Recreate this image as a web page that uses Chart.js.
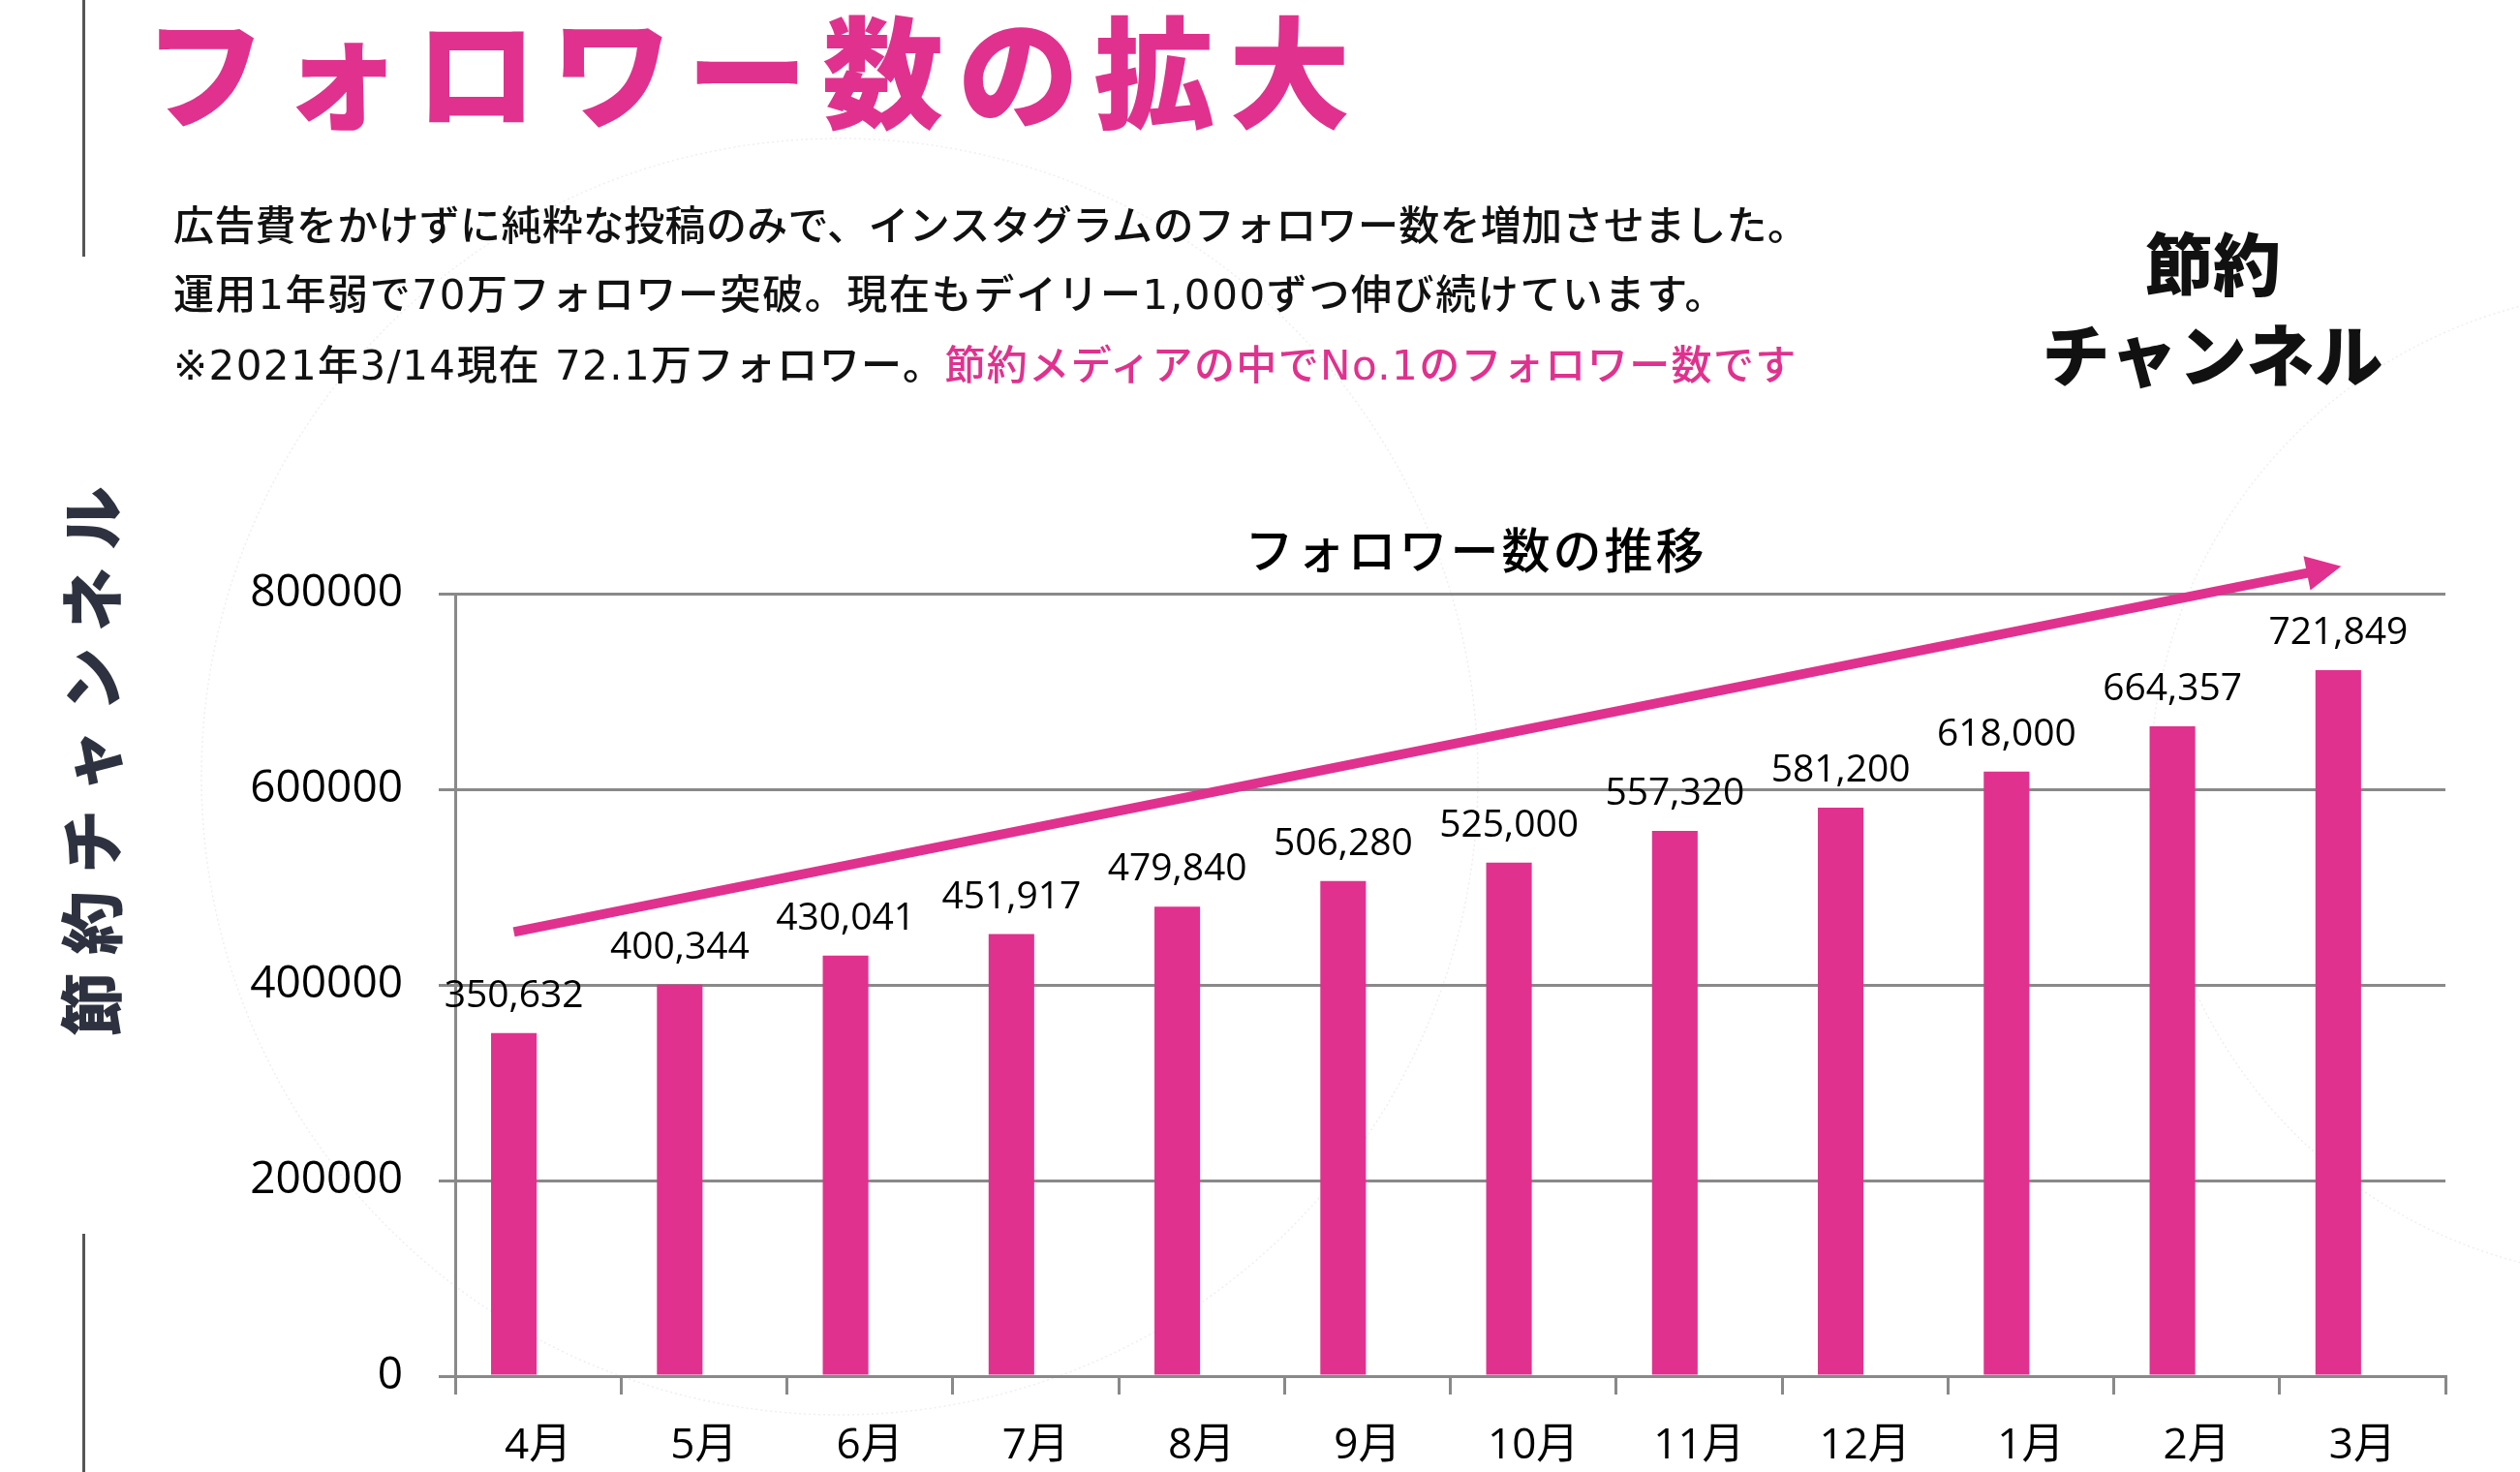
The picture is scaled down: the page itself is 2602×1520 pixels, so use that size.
<!DOCTYPE html>
<html lang="ja">
<head>
<meta charset="utf-8">
<script src="https://cdn.jsdelivr.net/npm/chart.js@4.4.1/dist/chart.umd.min.js"></script>
<style>
  html, body { margin: 0; padding: 0; background: #ffffff; }
  body { width: 2602px; height: 1520px; position: relative; overflow: hidden; font-family: "Noto Sans CJK JP", "Noto Sans", sans-serif; }
  #deco { position: absolute; left: 0; top: 0; }
  #chart { position: absolute; left: 0; top: 0; }
  .abs { position: absolute; white-space: nowrap; line-height: 1; }
  .vline { position: absolute; left: 85px; width: 3px; background: #555555; }
  #mainTitle { left: 149px; top: 6px; font-size: 125px; font-weight: 900; letter-spacing: 15px; color: #E1318E; }
  .para { left: 179px; font-size: 42px; font-weight: 500; color: #111111; font-family: "DejaVu Sans", "Noto Sans CJK JP", sans-serif; }
  .para .j { font-family: "Noto Sans CJK JP", sans-serif; }
  .pink { color: #E1318E; }
  #logo1, #logo2 { left: 2085px; width: 400px; text-align: center; font-weight: 900; color: #111111; font-size: 70px; }
  #logo1 { top: 235px; }
  #logo2 { top: 329px; letter-spacing: 1px; }
  #sideText { left: 91px; top: 786px; transform: translate(-50%, -50%) rotate(-90deg); font-size: 66px; font-weight: 900; letter-spacing: 18px; padding-left: 18px; color: #2E3240; }
  #chartTitle { left: 1524px; top: 540px; transform: translateX(-50%); font-size: 50px; font-weight: 500; letter-spacing: 3px; color: #000000; }
</style>
</head>
<body>
<svg id="deco" width="2602" height="1520" viewBox="0 0 2602 1520">
  <circle cx="867" cy="802" r="659" fill="none" stroke="#efefef" stroke-width="1.5" stroke-dasharray="2 3"/>
  <circle cx="2730" cy="810" r="510" fill="none" stroke="#efefef" stroke-width="1.5" stroke-dasharray="2 3"/>
</svg>
<canvas id="chart" width="2602" height="1520"></canvas>

<div class="vline" style="top:0; height:265px;"></div>
<div class="vline" style="top:1274px; height:246px;"></div>

<div class="abs" id="mainTitle">フォロワー数の拡大</div>
<div class="abs para" style="top:209px; letter-spacing:0.3px;"><span class="j">広告費をかけずに純粋な投稿のみで、インスタグラムのフォロワー数を増加させました。</span></div>
<div class="abs para" style="top:284px; letter-spacing:1.6px;">運用1年弱で70万フォロワー突破。現在もデイリー1,000ずつ伸び続けています。</div>
<div class="abs para" style="top:357px; letter-spacing:1.4px;">※2021年3/14現在 72.1万フォロワー。<span class="pink">節約メディアの中でNo.1のフォロワー数です</span></div>

<div class="abs" id="logo1">節約</div>
<div class="abs" id="logo2">チャンネル</div>

<div class="abs" id="sideText">節約チャンネル</div>
<div class="abs" id="chartTitle">フォロワー数の推移</div>

<script>
// ---- data ----
const months = ['4月', '5月', '6月', '7月', '8月', '9月', '10月', '11月', '12月', '1月', '2月', '3月'];
const followers = [350632, 400344, 430041, 451917, 479840, 506280, 525000, 557320, 581200, 618000, 664357, 721849];
const emptySeries = [null, null, null, null, null, null, null, null, null, null, null, null];
const yTicks = [0, 200000, 400000, 600000, 800000];
// trend arrow: from bar index / value to bar index / value
const arrowFrom = { index: 0, value: 454000 };
const arrowTo = { index: 11, value: 828000 };

const PINK = '#E1318E';
const GRID = '#898989';
const NUM_FONT = '"Open Sans", "Noto Sans CJK JP", sans-serif';

const valueLabels = {
  id: 'valueLabels',
  afterDatasetsDraw(chart) {
    const ctx = chart.ctx;
    const meta = chart.getDatasetMeta(0);
    ctx.save();
    ctx.font = '39px ' + NUM_FONT;
    ctx.fillStyle = '#000000';
    ctx.textAlign = 'center';
    ctx.textBaseline = 'alphabetic';
    meta.data.forEach((el, i) => {
      const v = followers[i];
      ctx.fillText(v.toLocaleString('en-US'), el.x, el.y - 27);
    });
    ctx.restore();
  }
};

const trendArrow = {
  id: 'trendArrow',
  afterDatasetsDraw(chart) {
    const ctx = chart.ctx;
    const meta = chart.getDatasetMeta(0);
    const ys = chart.scales.y;
    const x1 = meta.data[arrowFrom.index].x;
    const y1 = ys.getPixelForValue(arrowFrom.value);
    const x2 = meta.data[arrowTo.index].x + 3;
    const y2 = ys.getPixelForValue(arrowTo.value);
    const ang = Math.atan2(y2 - y1, x2 - x1);
    const headLen = 36, headHalf = 18;
    const bx = x2 - headLen * Math.cos(ang);
    const by = y2 - headLen * Math.sin(ang);
    ctx.save();
    ctx.strokeStyle = PINK;
    ctx.fillStyle = PINK;
    ctx.lineWidth = 10;
    ctx.lineCap = 'butt';
    ctx.beginPath();
    ctx.moveTo(x1, y1);
    ctx.lineTo(bx + 2 * Math.cos(ang), by + 2 * Math.sin(ang));
    ctx.stroke();
    ctx.beginPath();
    ctx.moveTo(x2, y2);
    ctx.lineTo(bx + headHalf * Math.sin(ang), by - headHalf * Math.cos(ang));
    ctx.lineTo(bx - headHalf * Math.sin(ang), by + headHalf * Math.cos(ang));
    ctx.closePath();
    ctx.fill();
    ctx.restore();
  }
};

new Chart(document.getElementById('chart'), {
  type: 'bar',
  data: {
    labels: months,
    datasets: [
      { label: 'フォロワー数', data: followers, backgroundColor: PINK, borderWidth: 0 },
      { label: '', data: emptySeries, backgroundColor: PINK, borderWidth: 0 }
    ]
  },
  options: {
    responsive: false,
    animation: false,
    events: [],
    categoryPercentage: 0.585,
    barPercentage: 0.94,
    layout: { padding: { left: 0, right: 77, top: 613, bottom: 0 } },
    plugins: {
      legend: { display: false },
      title: { display: false },
      tooltip: { enabled: false }
    },
    scales: {
      x: {
        offset: true,
        afterFit(scale) { scale.height = 99; },
        grid: { offset: true, drawOnChartArea: false, drawTicks: true, tickLength: 19, color: GRID, lineWidth: 3 },
        border: { display: true, color: GRID, width: 3 },
        ticks: { color: '#000000', padding: 27, maxRotation: 0, autoSkip: false, font: { family: NUM_FONT, size: 44 } }
      },
      y: {
        min: 0,
        max: 800000,
        afterFit(scale) { scale.width = 470; },
        afterBuildTicks(scale) { scale.ticks = yTicks.map(v => ({ value: v })); },
        grid: { color: GRID, lineWidth: 3, tickLength: 17, drawTicks: true },
        border: { display: true, color: GRID, width: 3 },
        ticks: { color: '#000000', padding: 37, font: { family: NUM_FONT, size: 46 }, callback: (v) => String(v) }
      }
    }
  },
  plugins: [valueLabels, trendArrow]
});
</script>
</body>
</html>
